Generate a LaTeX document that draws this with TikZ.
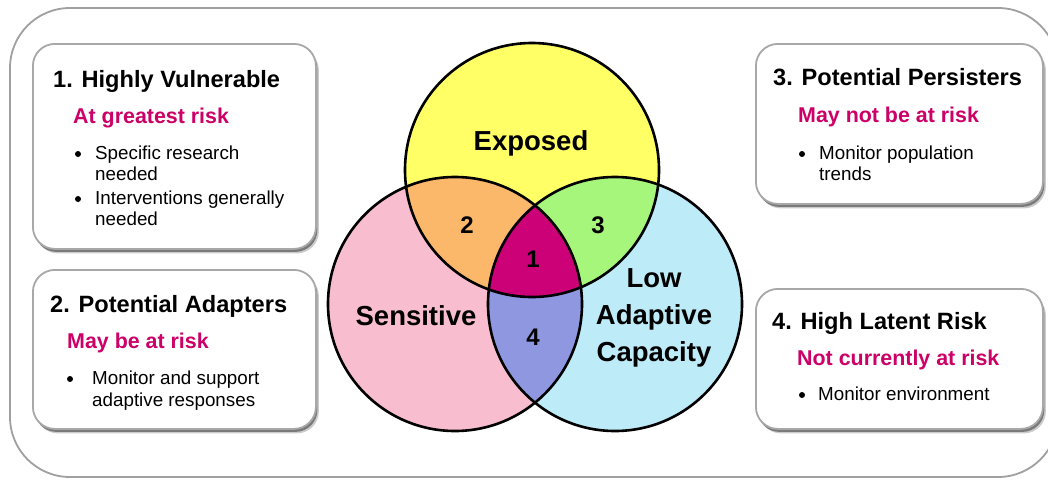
\documentclass[tikz,border=0pt]{standalone}
\usepackage{fontspec}
\setmainfont{Liberation Sans}
\usetikzlibrary{shadows}
\definecolor{yel}{HTML}{FFFF66}
\definecolor{pnk}{HTML}{F8BED0}
\definecolor{lbl}{HTML}{BDEBF8}
\definecolor{org}{HTML}{FBB86B}
\definecolor{grn}{HTML}{A6F67B}
\definecolor{mag}{HTML}{CC0077}
\definecolor{pur}{HTML}{8E97E0}
\definecolor{risk}{HTML}{CC0066}
\definecolor{framec}{HTML}{A0A0A0}
\definecolor{boxc}{HTML}{A8A8A8}
\tikzset{
  outerframe/.style={draw=framec, line width=1.8pt, rounded corners=60pt},
  infobox/.style={draw=boxc, line width=1.8pt, fill=white, rounded corners=22pt,
    anchor=north west, inner sep=0pt,
    drop shadow={shadow xshift=3pt, shadow yshift=-4.5pt, opacity=.2, fill=black},
    drop shadow={shadow xshift=1.5pt, shadow yshift=-3pt, opacity=.4, fill=black}},
  ttl/.style={anchor=base west, inner sep=0pt, font=\bfseries\fontsize{23.6}{26}\selectfont},
  sub/.style={anchor=base west, inner sep=0pt, text=risk, font=\bfseries\fontsize{21.4}{24}\selectfont},
  itm/.style={anchor=base west, inner sep=0pt, font=\fontsize{18.8}{21}\selectfont},
  bdot/.style={circle, fill=black, inner sep=0pt, minimum size=6pt},
  vlab/.style={anchor=base, inner sep=0pt, font=\bfseries\fontsize{27.5}{30}\selectfont},
  num/.style={anchor=base, inner sep=0pt, font=\bfseries\fontsize{24}{26}\selectfont},
  vline/.style={draw=black, line width=2.6pt},
}
\begin{document}
\begin{tikzpicture}[x=1pt,y=-1pt]
\useasboundingbox (0,0) rectangle (1048,480);
\fill[white] (0,0) rectangle (1048,480);
% outer frame
\draw[outerframe] (10,8) rectangle (1058,477);

% Venn diagram
\coordinate (E) at (532,170);
\coordinate (S) at (455,304);
\coordinate (L) at (615,304);
\fill[pnk] (S) circle[radius=127pt];
\fill[lbl] (L) circle[radius=127pt];
\fill[yel] (E) circle[radius=127pt];
\begin{scope}
  \clip (E) circle[radius=127pt];
  \fill[org] (S) circle[radius=127pt];
  \fill[grn] (L) circle[radius=127pt];
\end{scope}
\begin{scope}
  \clip (S) circle[radius=127pt];
  \fill[pur] (L) circle[radius=127pt];
  \clip (L) circle[radius=127pt];
  \fill[mag] (E) circle[radius=127pt];
\end{scope}
\draw[vline] (E) circle[radius=127pt];
\draw[vline] (S) circle[radius=127pt];
\draw[vline] (L) circle[radius=127pt];

\node[vlab] (exposed) at (531,150) {Exposed};
\node[vlab] (sensitive) at (416,325) {Sensitive};
\node[vlab] (low) at (654,287) {Low};
\node[vlab] (adaptive) at (654,324) {Adaptive};
\node[vlab] (capacity) at (654,361) {Capacity};
\node[num] (n2) at (467,233) {2};
\node[num] (n3) at (598,233) {3};
\node[num] (n1) at (533,267) {1};
\node[num] (n4) at (533,345) {4};

% Box 1
\node[infobox, minimum width=283pt, minimum height=205pt] (b1) at (32,43) {};
\node[ttl] (t1) at (53,87) {1. Highly Vulnerable};
\node[sub] (s1) at (73,123) {At greatest risk};
\node[bdot] (d1a) at (78,154) {};
\node[itm] (i1a) at (95,159) {Specific research};
\node[itm] (i1b) at (95,180) {needed};
\node[bdot] (d1b) at (78,199) {};
\node[itm] (i1c) at (95,204) {Interventions generally};
\node[itm] (i1d) at (95,225) {needed};

% Box 2
\node[infobox, minimum width=283pt, minimum height=159pt] (b2) at (32,269) {};
\node[ttl] (t2) at (50,312) {2. Potential Adapters};
\node[sub] (s2) at (67,348) {May be at risk};
\node[bdot] (d2) at (70,379) {};
\node[itm] (i2a) at (92,384) {Monitor and support};
\node[itm] (i2b) at (92,406) {adaptive responses};

% Box 3
\node[infobox, minimum width=287pt, minimum height=160pt] (b3) at (755,43) {};
\node[ttl] (t3) at (773,85) {3. Potential Persisters};
\node[sub] (s3) at (798,122) {May not be at risk};
\node[bdot] (d3) at (802,154) {};
\node[itm] (i3a) at (819,159) {Monitor population};
\node[itm] (i3b) at (819,180) {trends};

% Box 4
\node[infobox, minimum width=287pt, minimum height=140pt] (b4) at (755,288) {};
\node[ttl] (t4) at (772,329) {4. High Latent Risk};
\node[sub] (s4) at (797,365) {Not currently at risk};
\node[bdot] (d4) at (802,395) {};
\node[itm] (i4a) at (818,400) {Monitor environment};
\end{tikzpicture}
\end{document}
